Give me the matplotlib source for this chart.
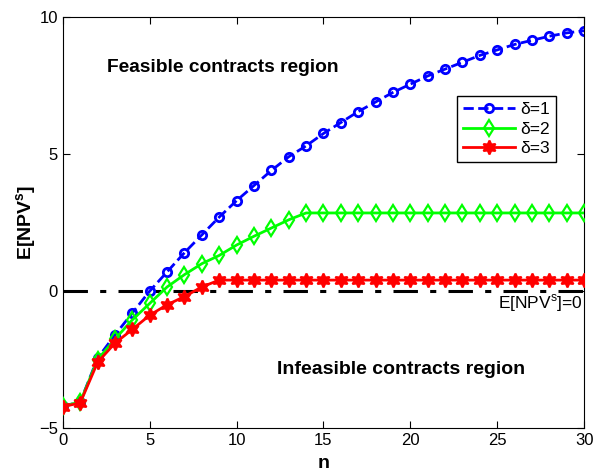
import matplotlib
matplotlib.use("Agg")
import matplotlib.pyplot as plt
import numpy as np

plt.rcParams['font.family'] = ['Liberation Sans', 'DejaVu Sans']

n = np.arange(0, 31)

delta1 = [-4.2, -4.05, -2.45, -1.6, -0.8, 0.0, 0.7, 1.4, 2.05, 2.7, 3.3,
          3.85, 4.4, 4.9, 5.3, 5.75, 6.15, 6.55, 6.9, 7.25, 7.55, 7.85,
          8.1, 8.35, 8.6, 8.8, 9.0, 9.15, 9.3, 9.42, 9.5]
delta2 = [-4.2, -4.05, -2.5, -1.75, -1.05, -0.45, 0.15, 0.6, 1.0, 1.3, 1.68,
          2.0, 2.3, 2.6, 2.85] + [2.85] * 16
delta3 = [-4.22, -4.08, -2.6, -1.9, -1.4, -0.88, -0.5, -0.2, 0.15] + [0.4] * 22

legend_labels = ['δ=1', 'δ=2', 'δ=3']

fig = plt.figure(figsize=(5.93, 4.73), dpi=100)
ax = fig.add_axes([0.106, 0.095, 0.879, 0.869])

ax.plot([0, 30], [0, 0], color='black', linestyle='-.', linewidth=2.2,
        dashes=(8, 4, 2, 4), zorder=1)

ax.plot(n, delta1, color='#0000ff', linestyle='--', linewidth=2,
        marker='o', markersize=6, markerfacecolor='none', markeredgewidth=2,
        label=legend_labels[0], zorder=2)
ax.plot(n, delta2, color='#00ff00', linestyle='-', linewidth=2,
        marker='d', markersize=8.5, markerfacecolor='none', markeredgewidth=1.6,
        label=legend_labels[1], zorder=3)
ax.plot(n, delta3, color='#ff0000', linestyle='-', linewidth=2,
        marker=(6, 1, 0), markersize=10, markerfacecolor='#ff0000',
        markeredgewidth=1.5, label=legend_labels[2], zorder=4)

ax.set_xlim(0, 30)
ax.set_ylim(-5, 10)
ax.set_xticks([0, 5, 10, 15, 20, 25, 30])
ax.set_yticks([-5, 0, 5, 10])
ax.tick_params(direction='in', top=True, right=True, labelsize=12, length=5)
ax.set_xlabel('n', fontsize=14, fontweight='bold', labelpad=5)
ax.set_ylabel(r'E[NPV$^\mathregular{s}$]', fontsize=14, fontweight='bold', labelpad=0)

ax.text(2.53, 8.15, 'Feasible contracts region', fontsize=13.8, fontweight='bold',
        va='center')
ax.text(12.3, -2.88, 'Infeasible contracts region', fontsize=14, fontweight='bold',
        va='center')
ax.text(29.95, -0.45, r'E[NPV$^\mathregular{s}$]=0', fontsize=12.5, ha='right', va='center')

leg = ax.legend(loc='upper right', bbox_to_anchor=(0.947, 0.808), fontsize=12.5,
                handlelength=3, fancybox=False, edgecolor='black', framealpha=1,
                borderaxespad=0, borderpad=0.35, labelspacing=0.25, handletextpad=0.3)
leg.get_frame().set_linewidth(1)

fig.savefig('out.png', dpi=100)
